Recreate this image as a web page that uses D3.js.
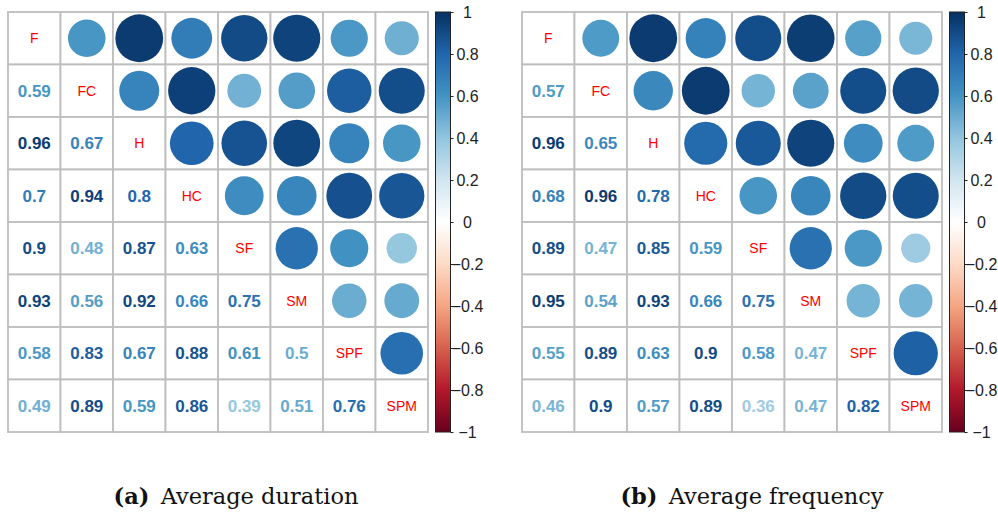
<!DOCTYPE html>
<html>
<head>
<meta charset="utf-8">
<script src="https://cdn.jsdelivr.net/npm/d3@7"></script>
<style>
  body { margin: 0; background: #fff; }
  svg { display: block; }
  .cbar text { font-family: "Liberation Sans", Arial, sans-serif; font-size: 16px; fill: #222; }
</style>
</head>
<body>
<svg width="998" height="512"></svg>
<script>
// variables, in row/column order
var labels = ["F", "FC", "H", "HC", "SF", "SM", "SPF", "SPM"];

// lower triangles (row i, columns 0..i-1), the matrix is symmetric
var durationLower = [
  [],
  [0.59],
  [0.96, 0.67],
  [0.7, 0.94, 0.8],
  [0.9, 0.48, 0.87, 0.63],
  [0.93, 0.56, 0.92, 0.66, 0.75],
  [0.58, 0.83, 0.67, 0.88, 0.61, 0.5],
  [0.49, 0.89, 0.59, 0.86, 0.39, 0.51, 0.76]
];

var frequencyLower = [
  [],
  [0.57],
  [0.96, 0.65],
  [0.68, 0.96, 0.78],
  [0.89, 0.47, 0.85, 0.59],
  [0.95, 0.54, 0.93, 0.66, 0.75],
  [0.55, 0.89, 0.63, 0.9, 0.58, 0.47],
  [0.46, 0.9, 0.57, 0.89, 0.36, 0.47, 0.82]
];

var colorbarTicks = [1, 0.8, 0.6, 0.4, 0.2, 0, -0.2, -0.4, -0.6, -0.8, -1];

var captionTags = ["(a)", "(b)"];
var captionTexts = ["Average duration", "Average frequency"];

// corrplot RdBu ramp
var rdbu = ["#67001F", "#B2182B", "#D6604D", "#F4A582", "#FDDBC7", "#FFFFFF",
            "#D1E5F0", "#92C5DE", "#4393C3", "#2166AC", "#053061"];
var color = d3.scaleLinear()
  .domain(d3.range(rdbu.length).map(function (i) { return -1 + 2 * i / (rdbu.length - 1); }))
  .range(rdbu);

var svg = d3.select("svg");
svg.append("rect").attr("width", 998).attr("height", 512).attr("fill", "#fff");

var defs = svg.append("defs");
var grad = defs.append("linearGradient")
  .attr("id", "rdbu")
  .attr("x1", 0).attr("y1", 1).attr("x2", 0).attr("y2", 0);
d3.range(0, 1.0001, 0.05).forEach(function (t) {
  grad.append("stop")
    .attr("offset", t)
    .attr("stop-color", color(-1 + 2 * t));
});

function toCells(lower) {
  var cells = [];
  labels.forEach(function (rowName, i) {
    labels.forEach(function (colName, j) {
      var v = i === j ? 1 : (j < i ? lower[i][j] : lower[j][i]);
      cells.push({ row: rowName, col: colName, i: i, j: j, value: v });
    });
  });
  return cells;
}

function drawPanel(lower, left, barLeft, tag, caption, captionX) {
  var top = 12, size = 420;
  var g = svg.append("g");

  var x = d3.scaleBand().domain(labels).range([left, left + size]);
  var y = d3.scaleBand().domain(labels).range([top, top + size]);
  var r = d3.scaleSqrt().domain([0, 1]).range([0, x.bandwidth() * 0.465]);

  var cells = toCells(lower);

  g.selectAll("rect.cell")
    .data(cells)
    .enter().append("rect")
    .attr("class", "cell")
    .attr("x", function (d) { return x(d.col); })
    .attr("y", function (d) { return y(d.row); })
    .attr("width", x.bandwidth())
    .attr("height", y.bandwidth())
    .attr("fill", "#fff")
    .attr("stroke", "#bebebe")
    .attr("stroke-width", 1.8);

  // upper triangle: circles
  g.selectAll("circle")
    .data(cells.filter(function (d) { return d.j > d.i; }))
    .enter().append("circle")
    .attr("cx", function (d) { return x(d.col) + x.bandwidth() / 2; })
    .attr("cy", function (d) { return y(d.row) + y.bandwidth() / 2; })
    .attr("r", function (d) { return r(Math.abs(d.value)); })
    .attr("fill", function (d) { return color(d.value); });

  // lower triangle: numbers
  g.selectAll("text.num")
    .data(cells.filter(function (d) { return d.j < d.i; }))
    .enter().append("text")
    .attr("class", "num")
    .attr("x", function (d) { return x(d.col) + x.bandwidth() / 2; })
    .attr("y", function (d) { return y(d.row) + y.bandwidth() / 2; })
    .attr("dy", "0.36em")
    .attr("text-anchor", "middle")
    .attr("font-family", "Liberation Sans, Arial, sans-serif")
    .attr("font-weight", "bold")
    .attr("font-size", 17)
    .attr("fill", function (d) { return color(d.value); })
    .text(function (d) { return d.value; });

  // diagonal: names
  g.selectAll("text.lab")
    .data(cells.filter(function (d) { return d.j === d.i; }))
    .enter().append("text")
    .attr("class", "lab")
    .attr("x", function (d) { return x(d.col) + x.bandwidth() / 2; })
    .attr("y", function (d) { return y(d.row) + y.bandwidth() / 2; })
    .attr("dy", "0.36em")
    .attr("text-anchor", "middle")
    .attr("font-family", "Liberation Sans, Arial, sans-serif")
    .attr("font-size", 14)
    .attr("fill", "#ff0000")
    .text(function (d) { return d.row; });

  // colour legend
  var barW = 15;
  var cy = d3.scaleLinear().domain([-1, 1]).range([top + size, top]);
  g.append("rect")
    .attr("x", barLeft)
    .attr("y", top)
    .attr("width", barW)
    .attr("height", size)
    .attr("fill", "url(#rdbu)")
    .attr("stroke", "#222")
    .attr("stroke-width", 1);

  var axis = g.append("g")
    .attr("class", "cbar")
    .attr("transform", "translate(" + (barLeft + barW) + ",0)")
    .call(d3.axisRight(cy).tickValues(colorbarTicks).tickSize(3).tickFormat(d3.format("~g")));
  axis.select(".domain").remove();
  axis.selectAll(".tick line").attr("stroke", "#222");
  axis.selectAll(".tick text")
    .attr("x", 17)
    .attr("text-anchor", "middle");

  // caption
  var cap = svg.append("text")
    .attr("x", captionX)
    .attr("y", 504)
    .attr("text-anchor", "middle")
    .attr("font-family", "DejaVu Serif, Liberation Serif, serif")
    .attr("font-size", 22.5)
    .attr("fill", "#111");
  cap.append("tspan").attr("font-weight", "bold").text(tag);
  cap.append("tspan").text("\u2002" + caption);
}

drawPanel(durationLower, 8, 435.5, captionTags[0], captionTexts[0], 236);
drawPanel(frequencyLower, 522, 949.5, captionTags[1], captionTexts[1], 752);
</script>
</body>
</html>
